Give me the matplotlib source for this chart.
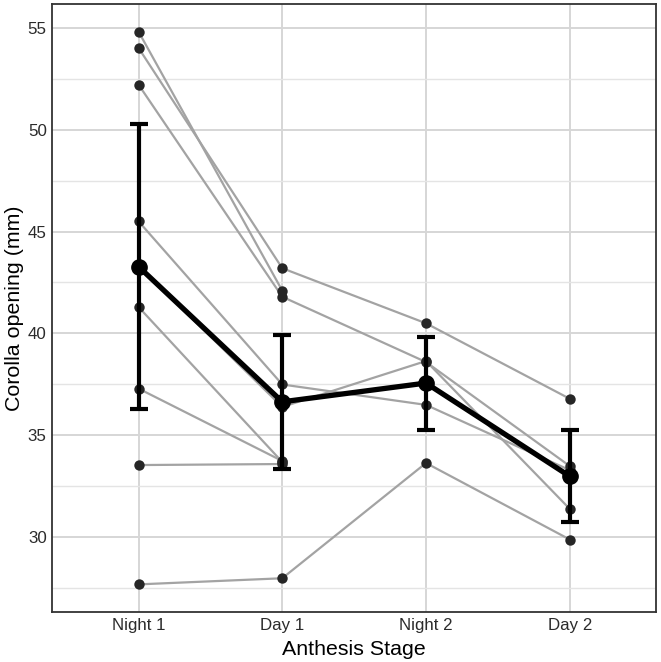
import numpy as np
import matplotlib
matplotlib.use("Agg")
import matplotlib.pyplot as plt

plt.rcParams["font.family"] = ["Liberation Sans", "DejaVu Sans"]

# Etapas de antesis
stages = ["Night 1", "Day 1", "Night 2", "Day 2"]

# Apertura de corola por flor (mm), NaN = sin dato
flower_a = [54.0, 43.2, 40.5, 36.8]
flower_b = [54.8, 42.1, np.nan, np.nan]
flower_c = [52.2, 41.8, 38.6, 33.5]
flower_d = [45.5, 37.5, 36.5, 33.3]
flower_e = [43.3, 36.4, 38.65, 31.4]
flower_f = [41.3, 33.7, np.nan, np.nan]
flower_g = [37.3, 33.75, np.nan, np.nan]
flower_h = [33.55, 33.6, np.nan, np.nan]
flower_i = [27.7, 28.0, 33.65, 29.9]
flowers = [flower_a, flower_b, flower_c, flower_d, flower_e,
           flower_f, flower_g, flower_h, flower_i]

# Media y barras de error
mean_vals = [43.28, 36.65, 37.57, 33.0]
err_vals = [6.97, 3.27, 2.28, 2.26]

fig = plt.figure(figsize=(6.61, 6.62), dpi=100)
ax = fig.add_axes([0.0791, 0.0755, 0.9133, 0.9185])

x = np.arange(len(stages))

for f in flowers:
    f = np.array(f)
    ok = ~np.isnan(f)
    ax.plot(x[ok], f[ok], color="#a3a3a3", lw=1.6, zorder=2)
    ax.plot(x[ok], f[ok], "o", color="#262626", ms=7.5, mec="none", zorder=3)

ax.errorbar(x, mean_vals, yerr=err_vals, fmt="none", ecolor="black",
            elinewidth=3, capsize=6.5, capthick=3, zorder=4)
ax.plot(x, mean_vals, "-o", color="black", lw=3.8, ms=11, zorder=5)

# Limites estilo ggplot
allv = np.concatenate([np.array(f) for f in flowers])
lo, hi = np.nanmin(allv), np.nanmax(allv)
rng = hi - lo
ax.set_ylim(lo - 0.05 * rng, hi + 0.05 * rng)
ax.set_xlim(-0.6, len(stages) - 0.4)

ax.set_xticks(x)
ax.set_xticklabels(stages)
ax.set_yticks(np.arange(30, 56, 5))
ax.set_yticks(np.arange(27.5, 56, 5), minor=True)

ax.grid(which="major", color="#d6d6d6", lw=1.4, zorder=0)
ax.grid(which="minor", axis="y", color="#e4e4e4", lw=1.0, zorder=0)
ax.set_axisbelow(True)

ax.tick_params(axis="both", which="both", length=0, labelsize=12.2,
               labelcolor="#2b2b2b", pad=4)

for s in ax.spines.values():
    s.set_color("#333333")
    s.set_linewidth(1.3)

ax.set_xlabel("Anthesis Stage", fontsize=15.4, labelpad=5)
ax.set_ylabel("Corolla opening (mm)", fontsize=15.4, labelpad=3)

fig.savefig("out.png", dpi=100)
